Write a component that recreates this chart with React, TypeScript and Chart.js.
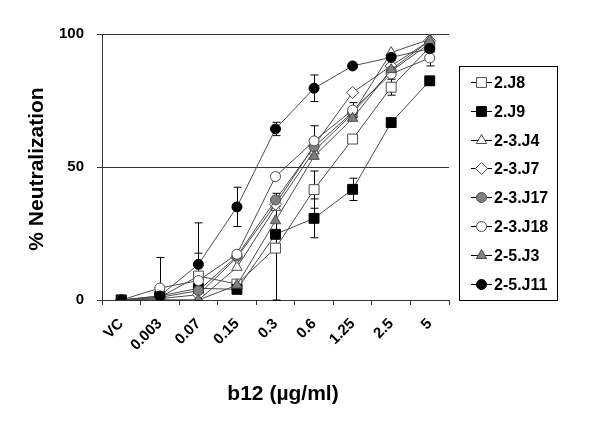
import React, { useEffect, useRef } from 'react';
import { Chart, registerables } from 'chart.js';
import { drawPoint } from 'chart.js/helpers';

Chart.register(...registerables);

const categories = ['VC', '0.003', '0.07', '0.15', '0.3', '0.6', '1.25', '2.5', '5'];
const yTickValues = [0, 50, 100];

const seriesNames = ['2.J8', '2.J9', '2-3.J4', '2-3.J7', '2-3.J17', '2-3.J18', '2-5.J3', '2-5.J11'];

const j8 = [0, 1, 9, 6, 19.5, 41.5, 60.5, 80, 95];
const j8Err = [0, 0, 8.6, 0, 19.5, 7, 0, 3, 0];
const j9 = [0, 1.5, 4.4, 4, 24.7, 30.7, 41.6, 66.7, 82.4];
const j9Err = [0, 0, 0, 0, 0, 7.3, 4.2, 0, 0];
const j34 = [0, 0, 0, 12.3, 34.8, 56, 70, 93, 98];
const j34Err = [0, 0, 0, 0, 0, 0, 0, 0, 0];
const j37 = [0, 0.5, 2, 16, 36, 58, 78, 88, 97.5];
const j37Err = [0, 0, 0, 0, 0, 0, 0, 0, 0];
const j317 = [0, 1, 3.5, 16.5, 37.6, 57.6, 70.5, 86, 96.5];
const j317Err = [0, 0, 0, 0, 2.5, 0, 0, 0, 0];
const j318 = [0, 4.5, 7.3, 17.2, 46.4, 59.8, 71.4, 85, 91];
const j318Err = [0, 11.5, 0, 0, 0, 5.7, 2.8, 0, 3];
const j53 = [0, 0, 0, 5.6, 29.8, 54, 68.3, 86.6, 97.5];
const j53Err = [0, 0, 0, 0, 0, 0, 0, 0, 0];
const j511 = [0, 1.5, 13.4, 35, 64.3, 79.6, 88, 91.2, 94.5];
const j511Err = [0, 0, 15.6, 7.4, 2.5, 5, 0, 0, 0];

const seriesValues = [j8, j9, j34, j37, j317, j318, j53, j511];
const seriesErrors = [j8Err, j9Err, j34Err, j37Err, j317Err, j318Err, j53Err, j511Err];

const LINE = '#4d4d4d';
const GREY = '#808080';
const styles = [
  { pointStyle: 'rect', radius: 7, fill: '#ffffff', stroke: LINE },
  { pointStyle: 'rect', radius: 7, fill: '#000000', stroke: '#000000' },
  { pointStyle: 'triangle', radius: 6, fill: '#ffffff', stroke: LINE },
  { pointStyle: 'rectRot', radius: 6, fill: '#ffffff', stroke: LINE },
  { pointStyle: 'circle', radius: 5, fill: GREY, stroke: LINE },
  { pointStyle: 'circle', radius: 5, fill: '#ffffff', stroke: LINE },
  { pointStyle: 'triangle', radius: 6, fill: GREY, stroke: LINE },
  { pointStyle: 'circle', radius: 5, fill: '#000000', stroke: '#000000' },
];

const FONT = "'Liberation Sans', Arial, sans-serif";

const errorBarsPlugin = {
  id: 'errorBars',
  beforeDatasetsDraw(chart: any) {
    const { ctx, scales } = chart;
    const x = scales.x;
    const y = scales.y;
    ctx.save();
    ctx.strokeStyle = '#000';
    ctx.lineWidth = 1;
    seriesErrors.forEach((errs, si) => {
      errs.forEach((e, i) => {
        if (!e) return;
        const v = seriesValues[si][i];
        const px = Math.round(x.getPixelForValue(i)) + 0.5;
        const top = y.getPixelForValue(Math.min(100, v + e));
        const bot = y.getPixelForValue(Math.max(0, v - e));
        ctx.beginPath();
        ctx.moveTo(px, top);
        ctx.lineTo(px, bot);
        ctx.moveTo(px - 4, top);
        ctx.lineTo(px + 4, top);
        ctx.moveTo(px - 4, bot);
        ctx.lineTo(px + 4, bot);
        ctx.stroke();
      });
    });
    ctx.restore();
  },
};

const legendBoxPlugin = {
  id: 'legendBox',
  afterDraw(chart: any) {
    const { ctx } = chart;
    ctx.save();
    ctx.fillStyle = '#fff';
    ctx.fillRect(459.5, 66.5, 98, 234);
    ctx.strokeStyle = '#000';
    ctx.lineWidth = 1;
    ctx.strokeRect(459.5, 66.5, 98, 234);
    seriesNames.forEach((name, i) => {
      const cy = Math.round(82 + i * 28.8) + 0.5;
      const st = styles[i];
      ctx.strokeStyle = '#000';
      ctx.lineWidth = 1;
      ctx.beginPath();
      ctx.moveTo(471, cy);
      ctx.lineTo(492, cy);
      ctx.stroke();
      ctx.fillStyle = st.fill;
      ctx.strokeStyle = st.stroke;
      drawPoint(ctx, { pointStyle: st.pointStyle, radius: st.radius, borderWidth: 1, rotation: 0 } as any, 481.5, cy);
      ctx.fillStyle = '#000';
      ctx.font = `bold 16px ${FONT}`;
      ctx.textAlign = 'left';
      ctx.textBaseline = 'middle';
      ctx.fillText(name, 494, cy + 1);
    });
    ctx.restore();
  },
};

const axisTitlesPlugin = {
  id: 'axisTitles',
  afterDraw(chart: any) {
    const { ctx } = chart;
    ctx.save();
    ctx.fillStyle = '#000';
    ctx.font = `bold 21px ${FONT}`;
    ctx.textAlign = 'center';
    ctx.textBaseline = 'middle';
    ctx.fillText('b12 (µg/ml)', 283, 394);
    ctx.translate(37, 169);
    ctx.rotate(-Math.PI / 2);
    ctx.fillText('% Neutralization', 0, 0);
    ctx.restore();
  },
};

export default function App() {
  const ref = useRef<HTMLCanvasElement | null>(null);
  useEffect(() => {
    if (!ref.current) return;
    const chart = new Chart(ref.current, {
      type: 'line',
      data: {
        labels: categories,
        datasets: seriesNames.map((name, i) => ({
          label: name,
          data: seriesValues[i],
          borderColor: LINE,
          borderWidth: 1,
          pointStyle: styles[i].pointStyle as any,
          pointRadius: styles[i].radius,
          pointBackgroundColor: styles[i].fill,
          pointBorderColor: styles[i].stroke,
          pointBorderWidth: 1,
          tension: 0,
          fill: false,
          order: seriesNames.length - i,
        })),
      },
      options: {
        responsive: false,
        animation: false,
        layout: { padding: { left: 0, top: 34, right: 151, bottom: 0 } },
        plugins: {
          legend: { display: false },
          tooltip: { enabled: false },
        },
        scales: {
          x: {
            type: 'category',
            offset: true,
            grid: { offset: true, drawOnChartArea: false, drawTicks: true, tickLength: 5, color: '#333' },
            border: { display: true, color: '#333', width: 1 },
            ticks: {
              autoSkip: false,
              minRotation: 45,
              maxRotation: 45,
              padding: 10,
              color: '#000',
              font: { family: FONT, size: 15, weight: 'bold' },
            },
            afterFit: (scale: any) => {
              scale.height = 126;
            },
          },
          y: {
            min: 0,
            max: 100,
            afterBuildTicks: (scale: any) => {
              scale.ticks = yTickValues.map((v) => ({ value: v }));
            },
            grid: { color: '#333', tickLength: 5, drawTicks: true },
            border: { display: true, color: '#333', width: 1 },
            ticks: {
              padding: 13,
              color: '#000',
              font: { family: FONT, size: 15, weight: 'bold' },
            },
            afterFit: (scale: any) => {
              scale.width = 102;
            },
          },
        },
      },
      plugins: [errorBarsPlugin, legendBoxPlugin, axisTitlesPlugin],
    });
    return () => chart.destroy();
  }, []);
  return (
    <div style={{ position: 'absolute', left: 0, top: 0, width: 600, height: 426, background: '#fff' }}>
      <canvas ref={ref} width={600} height={426} style={{ display: 'block' }} />
    </div>
  );
}
